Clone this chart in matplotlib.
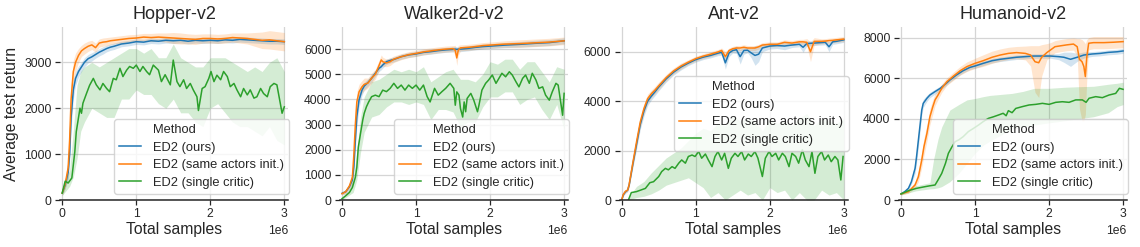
"""ED2 ablation curves on four MuJoCo tasks, one panel per env."""
import numpy as np
import matplotlib
matplotlib.use("Agg")
import matplotlib.pyplot as plt
from matplotlib.lines import Line2D

plt.rcParams.update({
    "font.family": ["Liberation Sans", "DejaVu Sans"],
    "text.color": ".15", "axes.labelcolor": ".15",
    "xtick.color": ".15", "ytick.color": ".15",
})

BLUE, ORANGE, GREEN = "#1f77b4", "#ff7f0e", "#2ca02c"
LABELS = ["ED2 (ours)", "ED2 (same actors init.)", "ED2 (single critic)"]
ENVS = ["Hopper-v2", "Walker2d-v2", "Ant-v2", "Humanoid-v2"]

# ---------------- Hopper (x in millions of samples) ----------------
hop_t = [0, 0.04, 0.08, 0.1, 0.12, 0.15, 0.18, 0.22, 0.26, 0.3, 0.35, 0.4, 0.45, 0.5, 0.55, 0.6,
         0.65, 0.7, 0.8, 0.9, 1.0, 1.1, 1.2, 1.3, 1.4, 1.5, 1.6, 1.7, 1.8, 1.9, 2.0, 2.1, 2.2,
         2.3, 2.4, 2.5, 2.6, 2.7, 2.8, 2.9, 3.0]
hop_blue = [150, 330, 600, 1000, 1800, 2400, 2650, 2800, 2900, 3000, 3080, 3120, 3170, 3220, 3260,
            3300, 3330, 3350, 3400, 3420, 3450, 3440, 3470, 3460, 3480, 3470, 3480, 3460, 3480,
            3470, 3480, 3470, 3490, 3480, 3500, 3490, 3480, 3470, 3460, 3460, 3450]
hop_blue_err = [50, 80, 150, 200, 250, 200, 150, 120, 100, 100, 90, 90, 80, 80, 80, 70, 70, 70, 60,
                60, 60, 60, 60, 60, 60, 60, 60, 60, 60, 60, 60, 60, 60, 60, 60, 60, 60, 60, 60, 60, 60]
hop_orange = [150, 350, 700, 1300, 2200, 2800, 3000, 3150, 3250, 3300, 3350, 3380, 3320, 3420, 3440,
              3450, 3470, 3480, 3500, 3520, 3530, 3550, 3540, 3550, 3540, 3530, 3520, 3510, 3500,
              3520, 3520, 3510, 3520, 3540, 3530, 3520, 3500, 3480, 3490, 3470, 3450]
hop_orange_err = [50, 100, 200, 250, 300, 250, 200, 150, 120, 120, 110, 100, 100, 90, 90, 90, 80, 80,
                  80, 80, 80, 80, 90, 90, 100, 120, 120, 110, 110, 100, 100, 100, 100, 100, 110,
                  120, 150, 180, 200, 200, 200]
hop_g_t = [0, 0.04, 0.08, 0.13, 0.17, 0.19, 0.24, 0.26, 0.28, 0.33, 0.37, 0.42, 0.46, 0.51, 0.55,
           0.6, 0.64, 0.69, 0.73, 0.78, 0.82, 0.87, 0.91, 0.96, 1.0, 1.05, 1.09, 1.14, 1.18, 1.23,
           1.3, 1.34, 1.39, 1.46, 1.5, 1.55, 1.59, 1.64, 1.68, 1.73, 1.77, 1.82, 1.84, 1.89, 1.93,
           1.98, 2.01, 2.05, 2.09, 2.14, 2.18, 2.23, 2.27, 2.32, 2.36, 2.41, 2.45, 2.5, 2.54, 2.59,
           2.63, 2.68, 2.72, 2.77, 2.81, 2.86, 2.9, 2.95, 2.97, 3.0]
hop_green = [150, 410, 370, 480, 1050, 1490, 2000, 1890, 2110, 2330, 2500, 2650, 2510, 2400, 2540,
             2430, 2360, 2650, 2620, 2870, 2690, 2830, 2910, 2870, 2940, 2800, 2910, 2800, 2730,
             2940, 2830, 2580, 2730, 2510, 3050, 2580, 2470, 2620, 2430, 2540, 2400, 2250, 1950,
             2430, 2470, 2650, 2800, 2580, 2720, 2620, 2800, 2690, 2470, 2540, 2400, 2250, 2430,
             2290, 2400, 2220, 2250, 2430, 2320, 2250, 2470, 2540, 2510, 2070, 1890, 2030]
hop_gb_t = [0, 0.1, 0.15, 0.2, 0.25, 0.3, 0.4, 0.5, 0.6, 0.7, 0.8, 0.9, 1.0, 1.1, 1.2, 1.3, 1.4,
            1.5, 1.6, 1.7, 1.8, 1.9, 2.0, 2.1, 2.2, 2.3, 2.4, 2.5, 2.6, 2.7, 2.8, 2.9, 3.0]
hop_green_lo = [100, 300, 500, 900, 1500, 1700, 2000, 1900, 1800, 1800, 2200, 2200, 2400, 2300,
                2300, 2100, 2000, 2200, 1900, 1900, 1700, 1600, 2000, 2100, 1900, 1700, 1600,
                1600, 1500, 1400, 1600, 1300, 1200]
hop_green_hi = [250, 650, 1500, 2500, 2800, 2900, 3000, 2900, 3000, 3100, 3200, 3300, 3300, 3200,
                3300, 3100, 3100, 3400, 3100, 3000, 2900, 2900, 3100, 3100, 3100, 3000, 2900, 2800,
                2900, 2800, 3000, 3100, 2800]

# ---------------- Walker2d ----------------
wal_t = [0, 0.05, 0.1, 0.14, 0.16, 0.18, 0.2, 0.23, 0.27, 0.3, 0.35, 0.4, 0.45, 0.5, 0.53, 0.55,
         0.6, 0.65, 0.7, 0.8, 0.9, 1.0, 1.1, 1.2, 1.3, 1.4, 1.5, 1.53, 1.55, 1.57, 1.6, 1.7, 1.8,
         1.9, 2.0, 2.2, 2.4, 2.6, 2.8, 3.0]
wal_blue = [265, 330, 530, 800, 1330, 2390, 3310, 3980, 4370, 4530, 4670, 4840, 5040, 5240, 5300,
            5370, 5500, 5550, 5590, 5700, 5770, 5810, 5870, 5900, 5940, 5970, 5990, 6000, 5990,
            6000, 6000, 6030, 6070, 6100, 6120, 6160, 6190, 6230, 6260, 6330]
wal_blue_err = [60, 80, 100, 150, 300, 400, 400, 300, 200, 150, 150, 150, 130, 130, 120, 120, 110,
                100, 100, 100, 100, 100, 100, 100, 100, 100, 100, 100, 100, 100, 100, 100, 100,
                100, 100, 100, 110, 120, 120, 120]
wal_orange = [250, 330, 560, 900, 1800, 3000, 3900, 4300, 4500, 4600, 4650, 4850, 5000, 5350,
              5570, 5500, 5450, 5500, 5600, 5700, 5780, 5830, 5890, 5930, 5970, 6000, 6020, 5950,
              5650, 5950, 6050, 6070, 6100, 6140, 6160, 6200, 6220, 6250, 6280, 6330]
wal_orange_err = [60, 80, 120, 250, 400, 500, 400, 300, 250, 250, 200, 200, 200, 200, 200, 180, 150,
                  150, 130, 120, 120, 120, 120, 120, 120, 120, 120, 200, 300, 200, 120, 120, 120,
                  120, 120, 130, 150, 150, 150, 150]
wal_g_t = [0, 0.05, 0.1, 0.14, 0.18, 0.2, 0.22, 0.25, 0.28, 0.3, 0.33, 0.36, 0.4, 0.45, 0.5, 0.55,
           0.6, 0.65, 0.7, 0.75, 0.8, 0.85, 0.9, 0.95, 1.0, 1.05, 1.1, 1.15, 1.19, 1.25, 1.3, 1.35,
           1.4, 1.46, 1.51, 1.53, 1.55, 1.58, 1.6, 1.63, 1.65, 1.67, 1.69, 1.74, 1.78, 1.83, 1.85,
           1.89, 1.94, 1.98, 2.03, 2.08, 2.12, 2.16, 2.21, 2.26, 2.3, 2.35, 2.39, 2.44, 2.48, 2.53,
           2.57, 2.62, 2.66, 2.71, 2.75, 2.8, 2.84, 2.89, 2.92, 2.96, 2.98, 3.0]
wal_green = [50, 170, 300, 500, 900, 1300, 2100, 2650, 3180, 3450, 3710, 3900, 4110, 4170, 4110,
             4370, 4310, 4440, 4640, 4440, 4570, 4370, 4570, 4440, 4570, 4370, 4570, 4110, 3900,
             4440, 4170, 4310, 4440, 4640, 4440, 3770, 4300, 4170, 3640, 3300, 3900, 3510, 4040,
             4240, 3970, 3510, 3770, 4370, 4640, 4770, 4970, 4640, 4840, 5040, 4900, 5100, 4970,
             4700, 4500, 4840, 4970, 4640, 5040, 4770, 4440, 4500, 4170, 3970, 4300, 4640, 4570,
             3770, 3370, 4240]
wal_gb_t = [0, 0.1, 0.15, 0.2, 0.25, 0.3, 0.4, 0.5, 0.6, 0.7, 0.8, 0.9, 1.0, 1.1, 1.2, 1.3, 1.4,
            1.5, 1.6, 1.7, 1.8, 1.9, 2.0, 2.1, 2.2, 2.3, 2.4, 2.5, 2.6, 2.7, 2.8, 2.9, 3.0]
wal_green_lo = [0, 200, 300, 800, 1900, 2700, 3300, 3400, 3700, 3900, 3900, 3800, 3900, 3800, 3200,
                3600, 3600, 3500, 2900, 3100, 3100, 3700, 4100, 4100, 4300, 4300, 3800, 4000, 4100,
                3600, 3200, 3800, 2800]
wal_green_hi = [100, 420, 800, 1900, 3300, 4100, 4700, 4800, 5000, 5200, 5100, 5200, 5100, 5300,
                4700, 4900, 5100, 5200, 4800, 4800, 4700, 5000, 5500, 5400, 5600, 5600, 5200, 5500,
                5500, 5100, 4700, 5300, 5200]

# ---------------- Ant ----------------
ant_t = [0, 0.02, 0.05, 0.08, 0.1, 0.15, 0.2, 0.25, 0.3, 0.35, 0.4, 0.45, 0.5, 0.6, 0.7, 0.8, 0.9,
         1.0, 1.1, 1.2, 1.3, 1.35, 1.4, 1.45, 1.5, 1.55, 1.6, 1.65, 1.7, 1.75, 1.8, 1.85, 1.9, 2.0,
         2.1, 2.2, 2.3, 2.4, 2.45, 2.5, 2.55, 2.6, 2.7, 2.75, 2.8, 2.85, 2.9, 3.0]
ant_blue = [0, 200, 330, 400, 600, 1450, 2250, 3050, 3600, 4000, 4200, 4380, 4570, 4900, 5170,
            5380, 5540, 5680, 5780, 5850, 5940, 5980, 5550, 5950, 6050, 6080, 5800, 6050, 6060,
            5950, 5850, 5900, 6150, 6230, 6250, 6230, 6270, 6300, 6180, 6330, 6340, 6350, 6370,
            6380, 6200, 6400, 6420, 6480]
ant_blue_err = [0, 50, 60, 60, 80, 150, 200, 200, 200, 180, 150, 150, 150, 130, 120, 120, 100, 100,
                100, 100, 100, 120, 250, 150, 100, 150, 300, 150, 100, 200, 400, 300, 150, 120, 120,
                150, 100, 100, 200, 100, 100, 100, 100, 100, 200, 100, 100, 100]
ant_orange = [0, 220, 350, 400, 620, 1500, 2350, 3150, 3700, 4100, 4300, 4450, 4620, 4950, 5220,
              5420, 5580, 5720, 5820, 5900, 5990, 6050, 5800, 6050, 6120, 6150, 6150, 6180, 6150,
              6150, 6150, 6200, 6270, 6300, 6300, 6380, 6350, 6400, 6400, 6380, 6000, 6420, 6420,
              6430, 6450, 6460, 6480, 6510]
ant_orange_err = [0, 50, 60, 60, 80, 150, 200, 200, 200, 180, 150, 150, 150, 130, 120, 120, 100, 100,
                  100, 100, 100, 100, 200, 100, 100, 100, 100, 100, 100, 100, 100, 100, 100, 100,
                  100, 100, 100, 100, 100, 150, 400, 150, 100, 100, 100, 100, 100, 100]
ant_g_t = [0.09, 0.13, 0.2, 0.32, 0.38, 0.43, 0.5, 0.54, 0.59, 0.63, 0.68, 0.72, 0.77, 0.81, 0.86,
           0.9, 0.95, 0.99, 1.04, 1.08, 1.13, 1.17, 1.22, 1.26, 1.3, 1.35, 1.39, 1.44, 1.48, 1.53,
           1.57, 1.62, 1.66, 1.71, 1.75, 1.8, 1.84, 1.9, 1.94, 1.99, 2.03, 2.08, 2.12, 2.17, 2.21,
           2.26, 2.3, 2.35, 2.39, 2.44, 2.48, 2.53, 2.57, 2.61, 2.65, 2.7, 2.74, 2.79, 2.83, 2.88,
           2.92, 2.96, 2.99]
ant_green = [0, 300, 340, 470, 700, 740, 950, 1150, 1280, 1220, 1350, 1280, 1490, 1620, 1490, 1760,
             1820, 1760, 1960, 1690, 1860, 1620, 1350, 1760, 1960, 1620, 1890, 1280, 1690, 1890,
             1760, 1960, 1620, 1860, 1760, 1960, 1690, 950, 1690, 1960, 1760, 1890, 1620, 1890,
             1760, 1350, 1890, 1760, 1490, 2030, 1620, 1350, 1960, 1080, 1760, 1960, 1620, 1820,
             1550, 1760, 1620, 810, 1760]
ant_gb_t = [0.09, 0.2, 0.3, 0.4, 0.5, 0.6, 0.7, 0.8, 0.9, 1.0, 1.1, 1.2, 1.3, 1.4, 1.5, 1.6, 1.7,
            1.8, 1.9, 2.0, 2.1, 2.2, 2.3, 2.4, 2.5, 2.6, 2.7, 2.8, 2.9, 3.0]
ant_green_lo = [0, 100, 150, 250, 400, 600, 700, 800, 900, 700, 500, 100, 300, 0, 200, 400, 200,
                300, 0, 500, 300, 400, 0, 300, 0, 0, 400, 200, 300, 0]
ant_green_hi = [100, 550, 750, 1100, 1400, 1700, 1900, 2100, 2400, 2700, 2900, 2800, 3100, 3000,
                3400, 3200, 3300, 3200, 2800, 3300, 3100, 3200, 3000, 3300, 3500, 3000, 3300, 3200,
                3100, 3300]

# ---------------- Humanoid ----------------
hum_b_t = [0, 0.05, 0.1, 0.14, 0.19, 0.21, 0.235, 0.26, 0.28, 0.3, 0.35, 0.39, 0.46, 0.53, 0.6,
           0.66, 0.75, 0.84, 0.93, 1.0, 1.11, 1.23, 1.34, 1.45, 1.56, 1.68, 1.79, 1.9, 2.02, 2.13,
           2.2, 2.29, 2.38, 2.47, 2.58, 2.69, 2.8, 2.92, 3.0]
hum_blue = [300, 410, 575, 900, 1560, 2140, 2960, 3780, 4430, 4760, 5010, 5170, 5340, 5500, 5710,
            5910, 6160, 6370, 6530, 6600, 6730, 6860, 6930, 6980, 7030, 7060, 7090, 7090, 7090,
            7060, 7030, 6930, 7030, 7140, 7190, 7220, 7270, 7300, 7340]
hum_blue_err = [50, 60, 80, 120, 250, 300, 350, 300, 250, 200, 150, 130, 120, 110, 110, 110, 110,
                110, 110, 110, 110, 110, 110, 110, 110, 110, 110, 110, 110, 150, 250, 350, 200,
                150, 120, 120, 120, 120, 120]
hum_o_t = [0, 0.1, 0.19, 0.235, 0.28, 0.31, 0.35, 0.39, 0.43, 0.46, 0.5, 0.55, 0.62, 0.71, 0.8,
           0.89, 1.0, 1.11, 1.23, 1.34, 1.45, 1.56, 1.68, 1.75, 1.81, 1.86, 1.9, 1.97, 2.02, 2.08,
           2.15, 2.24, 2.33, 2.38, 2.41, 2.445, 2.47, 2.49, 2.51, 2.535, 2.6, 2.74, 2.87, 3.0]
hum_orange = [300, 410, 740, 1150, 1970, 2630, 3280, 4100, 4600, 4930, 5170, 5500, 5830, 6110,
              6370, 6570, 6730, 6860, 7030, 7140, 7220, 7260, 7220, 7140, 6810, 6760, 7030, 7260,
              7390, 7550, 7590, 7640, 7680, 7550, 6930, 6810, 6570, 6080, 7060, 7720, 7750, 7750,
              7770, 7800]
hum_orange_lo = [250, 330, 600, 900, 1600, 2200, 2900, 3700, 4250, 4650, 4950, 5300, 5650, 5900,
                 6150, 6330, 6480, 6580, 6730, 6840, 6920, 6960, 6900, 6600, 5300, 5050, 6100, 6900,
                 7050, 7250, 7300, 7350, 7380, 7100, 4500, 3900, 3900, 4200, 6000, 7400, 7450, 7450,
                 7470, 7500]
hum_orange_hi = [350, 490, 900, 1450, 2350, 3050, 3700, 4500, 4950, 5250, 5450, 5720, 6020, 6300,
                 6580, 6800, 6980, 7150, 7330, 7440, 7520, 7560, 7580, 7600, 7600, 7600, 7650, 7700,
                 7750, 7850, 7900, 7950, 7980, 7950, 7950, 7900, 7800, 7700, 7900, 8000, 8050, 8050,
                 8050, 8050]
hum_g_t = [0, 0.1, 0.21, 0.33, 0.39, 0.46, 0.5, 0.55, 0.6, 0.64, 0.69, 0.73, 0.78, 0.84, 0.91,
           0.98, 1.05, 1.11, 1.18, 1.25, 1.32, 1.38, 1.42, 1.45, 1.5, 1.55, 1.64, 1.73, 1.82, 1.91,
           2.0, 2.09, 2.18, 2.27, 2.36, 2.45, 2.5, 2.54, 2.63, 2.72, 2.81, 2.9, 2.95, 3.0]
hum_green = [300, 460, 575, 660, 700, 740, 985, 1310, 1800, 2300, 2630, 2870, 2960, 3120, 3370,
             3530, 3700, 3860, 4020, 4100, 4190, 4270, 4150, 4400, 4300, 4510, 4600, 4680, 4710,
             4760, 4710, 4810, 4840, 4810, 4930, 4930, 4810, 5010, 5090, 5040, 5170, 5250, 5500,
             5450]
hum_gb_t = [0, 0.2, 0.39, 0.44, 0.5, 0.55, 0.66, 0.78, 0.89, 1.0, 1.11, 1.2, 1.35, 1.5, 1.65, 1.8,
            2.0, 2.2, 2.4, 2.6, 2.8, 2.92, 3.0]
hum_green_lo = [250, 450, 550, 560, 600, 660, 900, 1310, 1800, 2300, 2700, 2900, 3200, 3500, 3600,
                3700, 3800, 3900, 4000, 4100, 4300, 4600, 4700]
hum_green_hi = [350, 700, 850, 2000, 3000, 3600, 4430, 4700, 4930, 5000, 5090, 5150, 5200, 5250,
                5350, 5500, 5500, 5550, 5580, 5600, 5700, 5750, 5800]

YLIM = [3770, 6880, 7000, 8520]
YTICKS = [[0, 1000, 2000, 3000], [0, 1000, 2000, 3000, 4000, 5000, 6000],
          [0, 2000, 4000, 6000], [0, 2000, 4000, 6000, 8000]]
LEFT_PX = [60, 339.8, 619.5, 898.8]
LEG = [("lower right", (1.005, 0.035)), ("lower right", (1.005, 0.035)),
       ("center right", (1.005, 0.5)), ("lower right", (1.005, 0.035))]


def sym(m, err):
    return np.subtract(m, err), np.add(m, err)


panels = [
    [(hop_t, hop_blue, *sym(hop_blue, hop_blue_err), hop_t),
     (hop_t, hop_orange, *sym(hop_orange, hop_orange_err), hop_t),
     (hop_g_t, hop_green, hop_green_lo, hop_green_hi, hop_gb_t)],
    [(wal_t, wal_blue, *sym(wal_blue, wal_blue_err), wal_t),
     (wal_t, wal_orange, *sym(wal_orange, wal_orange_err), wal_t),
     (wal_g_t, wal_green, wal_green_lo, wal_green_hi, wal_gb_t)],
    [(ant_t, ant_blue, *sym(ant_blue, ant_blue_err), ant_t),
     (ant_t, ant_orange, *sym(ant_orange, ant_orange_err), ant_t),
     (ant_g_t, ant_green, ant_green_lo, ant_green_hi, ant_gb_t)],
    [(hum_b_t, hum_blue, *sym(hum_blue, hum_blue_err), hum_b_t),
     (hum_o_t, hum_orange, hum_orange_lo, hum_orange_hi, hum_o_t),
     (hum_g_t, hum_green, hum_green_lo, hum_green_hi, hum_gb_t)],
]

fig = plt.figure(figsize=(11.4, 2.47), dpi=100)
for i, env in enumerate(ENVS):
    ax = fig.add_axes([LEFT_PX[i] / 1140, 47 / 247, 228 / 1140, 173 / 247])
    ax.set_axisbelow(True)
    ax.grid(True, color="#d5d5d5", lw=0.9)
    for s in ("top", "right", "left"):
        ax.spines[s].set_visible(False)
    ax.spines["bottom"].set_color(".15")
    ax.spines["bottom"].set_linewidth(1.1)
    handles = []
    for (t, m, lo, hi, bt), c in zip(panels[i], (BLUE, ORANGE, GREEN)):
        ax.fill_between(np.array(bt) * 1e6, lo, hi, color=c, alpha=0.2, lw=0)
        ln, = ax.plot(np.array(t) * 1e6, m, color=c, lw=1.1)
        handles.append(ln)
    ax.set_xlim(-0.03e6, 3.05e6)
    ax.set_ylim(0, YLIM[i])
    ax.set_xticks([0, 1e6, 2e6, 3e6])
    ax.set_yticks(YTICKS[i])
    ax.tick_params(labelsize=8.7, length=3.5, width=0.9, pad=2.5)
    ax.xaxis.get_offset_text().set_fontsize(8.7)
    ax.set_title(env, fontsize=13)
    ax.set_xlabel("Total samples", fontsize=11.3, labelpad=1)
    if i == 0:
        ax.set_ylabel("Average test return", fontsize=11.3)
    # seaborn-style legend: hue name as a handle-less first entry
    title_entry = Line2D([], [], linestyle="none")
    loc, anchor = LEG[i]
    ax.legend([title_entry] + handles, ["Method"] + LABELS, loc=loc, bbox_to_anchor=anchor,
              borderaxespad=0, fontsize=9.3, framealpha=0.8, edgecolor="0.8",
              handlelength=1.7, handletextpad=0.9, labelspacing=0.42, borderpad=0.4)

fig.savefig("out.png", dpi=100)
